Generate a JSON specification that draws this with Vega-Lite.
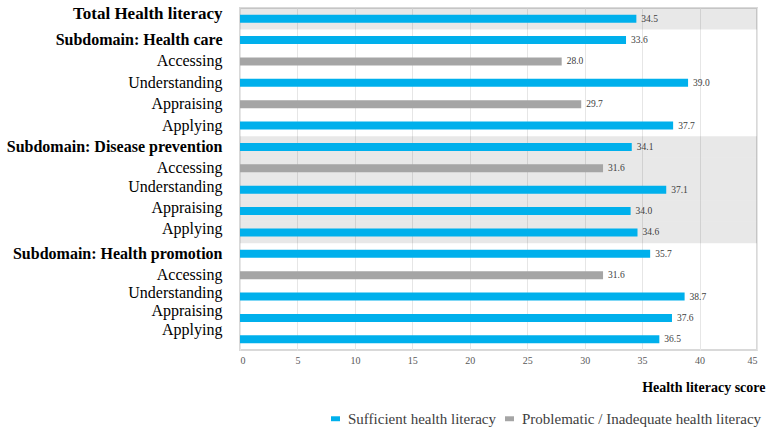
{
  "$schema": "https://vega.github.io/schema/vega-lite/v6.json",
  "width": 517,
  "height": 342,
  "autosize": {"type": "none"},
  "padding": {"left": 240, "top": 8, "right": 12, "bottom": 85},
  "background": "white",
  "config": {
    "view": {"stroke": "#D9D9D9", "strokeWidth": 2},
    "font": "Liberation Serif"
  },
  "data": {
    "values": [
      {"key": "Total Health literacy", "group": "Total", "value": 34.5, "level": "Sufficient health literacy"},
      {"key": "Subdomain: Health care", "group": "Health care", "value": 33.6, "level": "Sufficient health literacy"},
      {"key": "Health care|Accessing", "group": "Health care", "value": 28.0, "level": "Problematic / Inadequate health literacy"},
      {"key": "Health care|Understanding", "group": "Health care", "value": 39.0, "level": "Sufficient health literacy"},
      {"key": "Health care|Appraising", "group": "Health care", "value": 29.7, "level": "Problematic / Inadequate health literacy"},
      {"key": "Health care|Applying", "group": "Health care", "value": 37.7, "level": "Sufficient health literacy"},
      {"key": "Subdomain: Disease prevention", "group": "Disease prevention", "value": 34.1, "level": "Sufficient health literacy"},
      {"key": "Disease prevention|Accessing", "group": "Disease prevention", "value": 31.6, "level": "Problematic / Inadequate health literacy"},
      {"key": "Disease prevention|Understanding", "group": "Disease prevention", "value": 37.1, "level": "Sufficient health literacy"},
      {"key": "Disease prevention|Appraising", "group": "Disease prevention", "value": 34.0, "level": "Sufficient health literacy"},
      {"key": "Disease prevention|Applying", "group": "Disease prevention", "value": 34.6, "level": "Sufficient health literacy"},
      {"key": "Subdomain: Health promotion", "group": "Health promotion", "value": 35.7, "level": "Sufficient health literacy"},
      {"key": "Health promotion|Accessing", "group": "Health promotion", "value": 31.6, "level": "Problematic / Inadequate health literacy"},
      {"key": "Health promotion|Understanding", "group": "Health promotion", "value": 38.7, "level": "Sufficient health literacy"},
      {"key": "Health promotion|Appraising", "group": "Health promotion", "value": 37.6, "level": "Sufficient health literacy"},
      {"key": "Health promotion|Applying", "group": "Health promotion", "value": 36.5, "level": "Sufficient health literacy"}
    ]
  },
  "encoding": {
    "y": {
      "field": "key",
      "type": "nominal",
      "sort": null,
      "scale": {"paddingInner": 0, "paddingOuter": 0},
      "axis": {
        "title": null,
        "domain": false,
        "ticks": false,
        "grid": false,
        "labelPadding": 18,
        "labelLimit": 400,
        "labelColor": "#000000",
        "labelFont": "Liberation Serif",
        "labelExpr": "indexof(datum.value, '|') >= 0 ? split(datum.value, '|')[1] : datum.value",
        "labelFontWeight": {"condition": {"test": "indexof(datum.value, '|') < 0", "value": "bold"}, "value": "normal"},
        "labelFontSize": {"condition": {"test": "datum.value === 'Total Health literacy'", "value": 17}, "value": 16},
        "labelOffset": {
          "condition": [
            {"test": "datum.value === 'Total Health literacy'", "value": -5},
            {"test": "datum.value === 'Health promotion|Understanding'", "value": -4},
            {"test": "datum.value === 'Health promotion|Appraising'", "value": -7},
            {"test": "datum.value === 'Health promotion|Applying'", "value": -9},
            {"test": "datum.value === 'Disease prevention|Understanding' || datum.value === 'Disease prevention|Appraising' || datum.value === 'Disease prevention|Applying'", "value": -3}
          ],
          "value": 0
        }
      }
    },
    "x": {
      "field": "value",
      "type": "quantitative",
      "scale": {"domain": [0, 45], "nice": false},
      "axis": {
        "title": "Health literacy score",
        "values": [0, 5, 10, 15, 20, 25, 30, 35, 40, 45],
        "domain": false,
        "ticks": false,
        "grid": true,
        "gridColor": "#E6E6E6",
        "gridWidth": 1,
        "labelFont": "Liberation Serif",
        "labelFontSize": 10,
        "labelColor": "#595959",
        "labelPadding": 5,
        "titleFont": "Liberation Serif",
        "titleFontSize": 14,
        "titleFontWeight": "bold",
        "titleColor": "#000000",
        "titleAlign": "right",
        "titleBaseline": "alphabetic",
        "titleX": 525,
        "titleY": 41
      }
    }
  },
  "layer": [
    {
      "mark": {"type": "bar", "color": "#000000", "height": {"band": 1}},
      "encoding": {
        "x": {"datum": 0, "type": "quantitative"},
        "x2": {"datum": 45},
        "opacity": {
          "condition": {"test": "datum.group === 'Total' || datum.group === 'Disease prevention'", "value": 0.09},
          "value": 0
        }
      }
    },
    {
      "mark": {"type": "bar", "size": 8},
      "encoding": {
        "color": {
          "field": "level",
          "type": "nominal",
          "scale": {
            "domain": ["Sufficient health literacy", "Problematic / Inadequate health literacy"],
            "range": ["#00B0EC", "#A5A5A5"]
          },
          "legend": {
            "title": null,
            "orient": "none",
            "direction": "horizontal",
            "legendX": 88,
            "legendY": 403,
            "symbolType": "M-1,-0.55H1V0.55H-1Z",
            "symbolSize": 81,
            "symbolStrokeWidth": 0,
            "labelFont": "Liberation Serif",
            "labelFontSize": 15,
            "labelColor": "#404040",
            "labelOffset": 5,
            "labelLimit": 400,
            "columnPadding": 5
          }
        }
      }
    },
    {
      "mark": {"type": "text", "align": "left", "baseline": "middle", "dx": 5, "fontSize": 9.5, "color": "#404040", "font": "Liberation Serif"},
      "encoding": {
        "text": {"field": "value", "type": "quantitative", "format": ".1f"}
      }
    }
  ]
}
